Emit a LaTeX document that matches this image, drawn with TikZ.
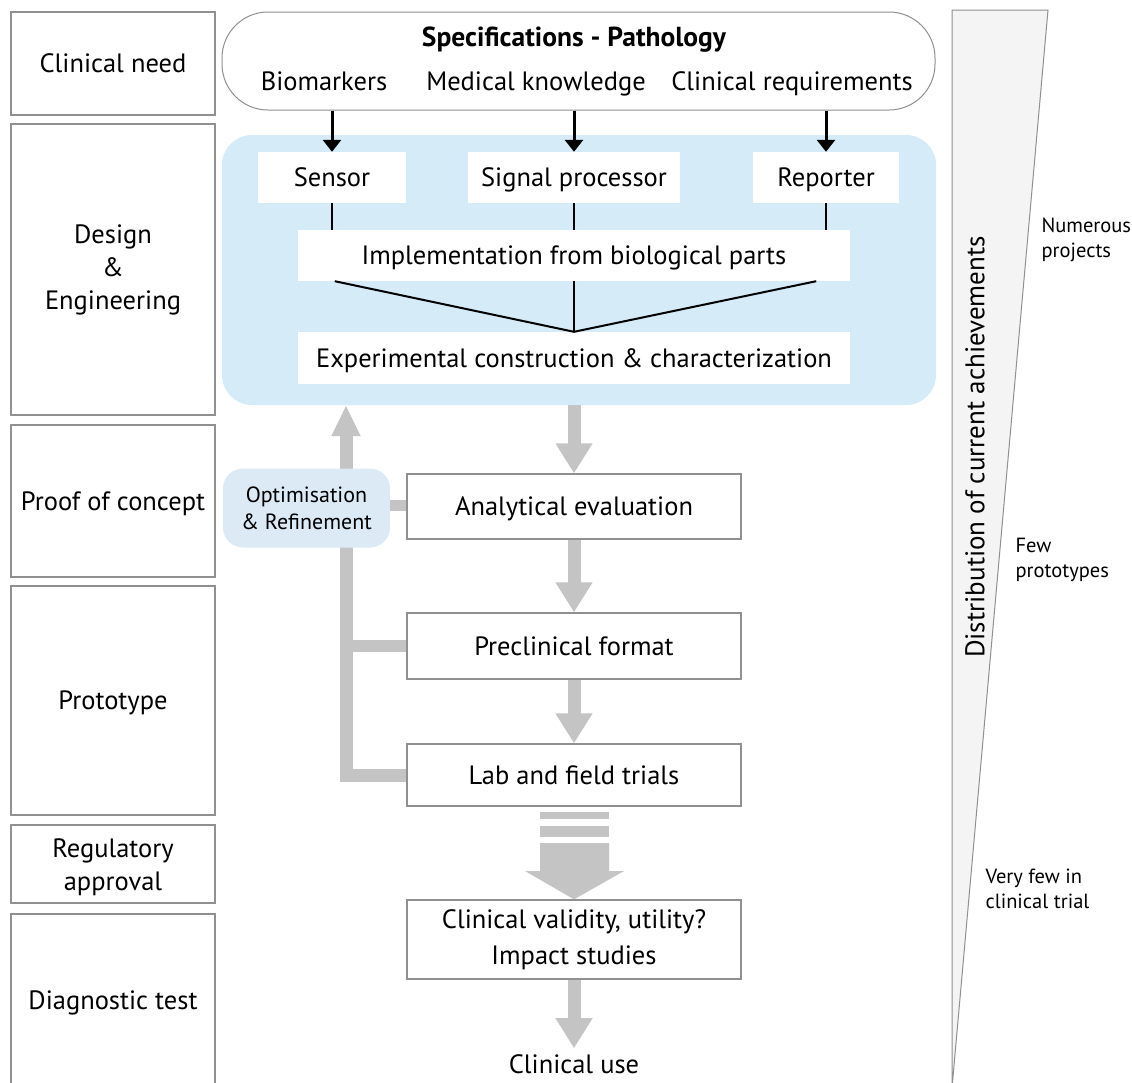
\documentclass[tikz,border=0pt]{standalone}
\usepackage{fontspec}
\setmainfont{PT Sans}
\usetikzlibrary{arrows.meta,calc}
\definecolor{boxgray}{HTML}{909090}
\definecolor{arrowgray}{HTML}{C4C4C4}
\definecolor{bluebg}{HTML}{D5EBF8}
\definecolor{optblue}{HTML}{DCEAF6}
\definecolor{trifill}{HTML}{F4F4F4}
\begin{document}
\begin{tikzpicture}[x=1pt,y=-1pt,
  lbl/.style={font=\fontsize{26.5}{33}\selectfont, align=center},
  one/.style={text height=18.5pt, text depth=0pt},
  leftbox/.style={draw=boxgray, line width=1.3pt, fill=white, inner sep=0pt, minimum width=204pt, lbl},
  stagebox/.style={draw=boxgray, line width=1.3pt, fill=white, inner sep=0pt, minimum width=334pt, lbl},
  whitebox/.style={fill=white, inner sep=0pt, lbl, one},
  blk/.style={line width=3pt, -{Triangle[width=18pt,length=12pt]}},
  thinline/.style={line width=2pt},
  fat/.style={draw=arrowgray, line width=13pt, -{Triangle[width=35pt,length=30pt]}},
  fatup/.style={draw=arrowgray, line width=13pt, line join=miter, -{Triangle[width=27pt,length=31pt]}},
  branch/.style={draw=arrowgray, line width=12pt},
  small/.style={font=\fontsize{20.5}{25}\selectfont, align=left, anchor=west}]

\clip (0,0) rectangle (1132,1082);
\fill[white] (0,0) rectangle (1132,1082);

% left column
\node[leftbox, one, minimum height=103pt] (cn) at (113,63.5) {Clinical need};
\node[leftbox, minimum height=291pt] (de) at (113,269.5) {Design\\\&\\Engineering};
\node[leftbox, one, minimum height=152pt] (pc) at (113,501) {Proof of concept};
\node[leftbox, one, minimum height=229pt] (pt) at (113,700.5) {Prototype};
\node[leftbox, minimum height=78pt] (ra) at (113,864) {};
\node[lbl] (ratext) at (113,867) {Regulatory\\approval};
\draw[boxgray, line width=1.3pt] (11,1090) -- (11,914) -- (215,914) -- (215,1090);
\node[lbl, one] (dt) at (113,1000) {Diagnostic test};

% right triangle
\filldraw[fill=trifill, draw=boxgray, line width=1pt] (952,10) -- (1048,10) -- (952,1088) -- cycle;
\node[rotate=90, font=\fontsize{27}{30}\selectfont] (dist) at (975,447) {Distribution of current achievements};
\node[small] (np) at (1038,240) {Numerous\\projects};
\node[small] (fp) at (1012,560) {Few\\prototypes};
\node[small] (vf) at (982,889) {Very few in\\clinical trial};

% specifications pill
\node[draw=boxgray, line width=1pt, rounded corners=46pt, minimum width=713pt, minimum height=98pt, inner sep=0pt] (spec) at (578.5,61) {};
\node[font=\fontsize{27.5}{30}\selectfont\bfseries, text height=19pt, text depth=0pt] (spt) at (574,37) {Specifications - Pathology};
\node[lbl, one] (bio) at (324,81) {Biomarkers};
\node[lbl, one] (med) at (536,81) {Medical knowledge};
\node[lbl, one] (req) at (792,81) {Clinical requirements};

% design region
\node[fill=bluebg, rounded corners=30pt, minimum width=714pt, minimum height=270pt, inner sep=0pt] (design) at (579,270) {};
\node[whitebox, minimum width=148pt, minimum height=51pt] (sensor) at (332,177.5) {Sensor};
\node[whitebox, minimum width=212pt, minimum height=51pt] (sp) at (574,177.5) {Signal processor};
\node[whitebox, minimum width=146pt, minimum height=51pt] (rep) at (826,177.5) {Reporter};
\node[whitebox, minimum width=552pt, minimum height=51pt] (impl) at (574,255.5) {Implementation from biological parts};
\node[whitebox, minimum width=552pt, minimum height=52pt] (exp) at (574,358) {Experimental construction \& characterization};

\draw[blk] (sensor.north |- spec.south) -- (sensor.north);
\draw[blk] (sp.north |- spec.south) -- (sp.north);
\draw[blk] (rep.north |- spec.south) -- (rep.north);

\draw[thinline] (sensor.south) -- (sensor.south |- impl.north);
\draw[thinline] (sp.south) -- (sp.south |- impl.north);
\draw[thinline] (rep.south) -- (rep.south |- impl.north);
\draw[thinline] ($(impl.south west)+(37,0)$) -- (exp.north);
\draw[thinline] (impl.south) -- (exp.north);
\draw[thinline] ($(impl.south east)+(-34,0)$) -- (exp.north);

% stages
\node[stagebox, one, minimum height=65pt] (ana) at (574,506.5) {Analytical evaluation};
\node[stagebox, one, minimum height=66pt] (pre) at (574,646) {Preclinical format};
\node[stagebox, one, minimum height=62pt] (lab) at (574,775) {Lab and field trials};
\node[stagebox, minimum height=79pt, font=\fontsize{26.5}{36}\selectfont] (cv) at (574,939.5) {Clinical validity, utility?\\Impact studies};
\node[lbl, one] (cu) at (574,1064) {Clinical use};

\draw[fat] (ana.north |- design.south) -- (ana.north);
\draw[fat] (ana.south) -- (pre.north);
\draw[fat] (pre.south) -- (lab.north);
\draw[fat] (cv.south) -- ($(cu.north)+(0,-3)$);

% feedback loop
\coordinate (fbx) at (346,0);
\draw[fatup] (lab.west) -- (fbx |- lab.west) -- (fbx |- design.south);
\draw[branch] (pre.west) -- (fbx |- pre.west);
\node[fill=optblue, rounded corners=20pt, minimum width=167pt, minimum height=79pt, inner sep=0pt, font=\fontsize{22}{27}\selectfont, align=center] (opt) at (306.5,508) {Optimisation\\\& Refinement};
\draw[arrowgray, line width=11pt] (opt.east |- 0,505) -- (ana.west |- 0,505);

% striped arrow to clinical validity
\fill[arrowgray] (540,812) rectangle (609,819);
\fill[arrowgray] (540,826) rectangle (609,837);
\fill[arrowgray] (540,843) -- (609,843) -- (609,871) -- (624,871) -- (cv.north) -- (525,871) -- (540,871) -- cycle;
\end{tikzpicture}
\end{document}
